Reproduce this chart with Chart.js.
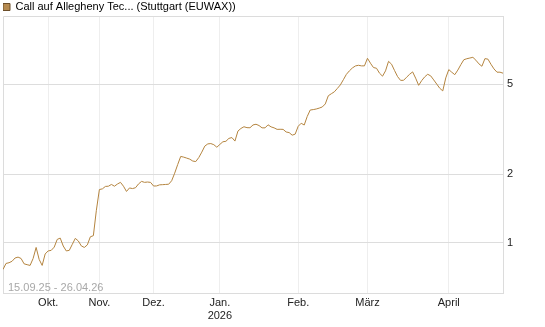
<!DOCTYPE html>
<html>
<head>
<meta charset="utf-8">
<script src="https://cdn.jsdelivr.net/npm/chart.js@4/dist/chart.umd.min.js"></script>
<style>
    html, body { margin: 0; padding: 0; background: #fff; }
    #wrap { width: 545px; height: 327px; }
</style>
</head>
<body>
<div id="wrap"><canvas id="price-chart" width="545" height="327"></canvas></div>
<script>
const seriesName = "Call auf Allegheny Tec... (Stuttgart (EUWAX))";
const dateRange = "15.09.25 - 26.04.26";

// closing prices, one per trading day
const prices = [
    0.762, 0.810, 0.816, 0.828, 0.856, 0.864, 0.852, 0.807, 0.800, 0.794,
    0.852, 0.953, 0.844, 0.794, 0.892, 0.920, 0.925, 0.956, 1.034, 1.048,
    0.967, 0.920, 0.925, 0.983, 1.045, 1.018, 0.968, 0.953, 0.978, 1.062,
    1.074, 1.390, 1.716, 1.728, 1.771, 1.775, 1.807, 1.775, 1.815, 1.846,
    1.775, 1.683, 1.744, 1.733, 1.748, 1.817, 1.864, 1.846, 1.852, 1.845,
    1.778, 1.780, 1.800, 1.803, 1.807, 1.811, 1.877, 2.026, 2.212, 2.402,
    2.385, 2.361, 2.337, 2.292, 2.280, 2.375, 2.509, 2.668, 2.728, 2.737,
    2.706, 2.637, 2.714, 2.787, 2.801, 2.885, 2.909, 2.807, 3.108, 3.191,
    3.247, 3.217, 3.214, 3.307, 3.331, 3.287, 3.211, 3.211, 3.311, 3.243,
    3.211, 3.162, 3.165, 3.162, 3.079, 3.060, 2.981, 3.012, 3.261, 3.365,
    3.304, 3.603, 3.849, 3.865, 3.889, 3.925, 3.969, 4.093, 4.448, 4.540,
    4.629, 4.791, 4.966, 5.236, 5.528, 5.728, 5.899, 6.020, 6.063, 6.026,
    6.026, 6.507, 6.190, 5.924, 5.882, 5.595, 5.427, 5.728, 6.310, 6.130,
    5.745, 5.404, 5.200, 5.205, 5.370, 5.533, 5.668, 5.318, 4.946, 5.188,
    5.388, 5.533, 5.443, 5.224, 5.008, 4.800, 4.673, 5.333, 5.802, 5.647,
    5.511, 5.773, 6.100, 6.414, 6.480, 6.526, 6.573, 6.382, 6.151, 6.002,
    6.486, 6.452, 6.124, 5.844, 5.652, 5.652, 5.595
];

// index of the first trading day of each month
const monthStarts = [15, 32, 50, 72, 98, 121, 148];
const monthLabels = ["Okt.", "Nov.", "Dez.", ["Jan.", "2026"], "Feb.", "März", "April"];

const yTicks = [1, 2, 5];

const lineColor = "#b4843f";
const fontFamily = "'Liberation Sans', Arial, sans-serif";

const framePlugin = {
    id: "frame",
    beforeDatasetsDraw(chart) {
        const { ctx, chartArea } = chart;
        ctx.save();
        ctx.strokeStyle = "#dcdcdc";
        ctx.lineWidth = 1;
        ctx.beginPath();
        ctx.moveTo(chartArea.left + 0.5, chartArea.bottom);
        ctx.lineTo(chartArea.left + 0.5, chartArea.top + 0.5);
        ctx.lineTo(chartArea.right, chartArea.top + 0.5);
        ctx.stroke();
        ctx.restore();
    },
    afterDraw(chart) {
        const { ctx, chartArea } = chart;
        ctx.save();
        ctx.font = "11px " + fontFamily;
        ctx.fillStyle = "#a8a8a8";
        ctx.textBaseline = "alphabetic";
        ctx.fillText(dateRange, chartArea.left + 5, chartArea.bottom - 2);
        ctx.restore();
    }
};

function buildData() {
    return prices.map((p, i) => ({ x: i, y: p }));
}

const priceChart = new Chart(document.getElementById("price-chart"), {
    type: "line",
    data: {
        datasets: [{
            label: seriesName,
            data: buildData(),
            borderColor: lineColor,
            backgroundColor: "#b58a50",
            borderWidth: 1,
            pointRadius: 0,
            tension: 0
        }]
    },
    options: {
        responsive: false,
        animation: false,
        layout: {
            padding: { left: 3, top: 1.5, right: 0, bottom: 0 }
        },
        plugins: {
            legend: {
                position: "top",
                align: "start",
                maxHeight: 14.5,
                labels: {
                    boxWidth: 7,
                    boxHeight: 7,
                    padding: 0,
                    color: "#222",
                    font: { family: fontFamily, size: 11 },
                    generateLabels(chart) {
                        return [{
                            text: seriesName,
                            fillStyle: "#b58a50",
                            strokeStyle: "#6b4e2a",
                            lineWidth: 1,
                            datasetIndex: 0
                        }];
                    }
                }
            },
            tooltip: { enabled: false }
        },
        scales: {
            x: {
                type: "linear",
                min: 0,
                max: prices.length - 1,
                afterBuildTicks(scale) {
                    scale.ticks = monthStarts.map(v => ({ value: v }));
                },
                afterFit(scale) {
                    scale.height = 34;
                },
                ticks: {
                    autoSkip: false,
                    maxRotation: 0,
                    padding: 3,
                    color: "#222",
                    font: { family: fontFamily, size: 11 },
                    callback: (value, index) => monthLabels[index]
                },
                grid: {
                    color: "#eeeeee",
                    drawTicks: false
                },
                border: { color: "#dcdcdc" }
            },
            y: {
                type: "logarithmic",
                position: "right",
                min: 0.6,
                max: 10,
                afterBuildTicks(scale) {
                    scale.ticks = yTicks.map(v => ({ value: v }));
                },
                afterFit(scale) {
                    scale.width = 42;
                },
                ticks: {
                    padding: 4,
                    color: "#222",
                    font: { family: fontFamily, size: 11 },
                    callback: value => String(value)
                },
                grid: {
                    color: "#dddddd",
                    drawTicks: false
                },
                border: { color: "#dcdcdc" }
            }
        }
    },
    plugins: [framePlugin]
});
</script>
</body>
</html>
